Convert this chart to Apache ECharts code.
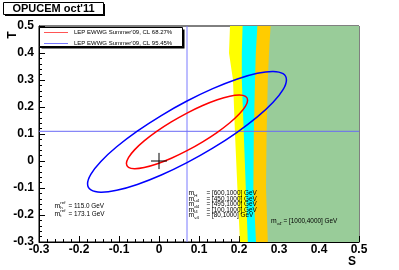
<!DOCTYPE html>
<html><head><meta charset="utf-8">
<script src="https://cdn.jsdelivr.net/npm/echarts@6/dist/echarts.min.js"></script>
<style>html,body{margin:0;padding:0;background:#fff}#c{width:399px;height:270px}</style>
</head><body><div id="c"></div>
<script>
// ---- axes ----
const xTicks = [-0.3, -0.2, -0.1, 0, 0.1, 0.2, 0.3, 0.4, 0.5];
const yTicks = [-0.3, -0.2, -0.1, 0, 0.1, 0.2, 0.3, 0.4, 0.5];

// ---- LEP EWWG contours (S, T) ----
const red68S = [0.2215,0.2163,0.2012,0.1771,0.1458,0.1092,0.07,0.0308,-0.0058,-0.0371,-0.0612,-0.0763,-0.0815,-0.0763,-0.0612,-0.0371,-0.0058,0.0308,0.07,0.1092,0.1458,0.1771,0.2012,0.2163];
const red68T = [0.2253,0.2393,0.2444,0.2401,0.2270,0.2056,0.1776,0.1448,0.1096,0.0743,0.0412,0.0127,-0.0093,-0.0233,-0.0284,-0.0241,-0.0110,0.0104,0.0384,0.0712,0.1064,0.1417,0.1748,0.2033];
const blue95S = [0.3186,0.3101,0.2853,0.2458,0.1943,0.1343,0.07,0.0057,-0.0543,-0.1058,-0.1453,-0.1701,-0.1786,-0.1701,-0.1453,-0.1058,-0.0543,0.0057,0.07,0.1343,0.1943,0.2458,0.2853,0.3101];
const blue95T = [0.3004,0.3233,0.3317,0.3247,0.3030,0.2680,0.2221,0.1684,0.1106,0.0527,-0.0015,-0.0483,-0.0844,-0.1073,-0.1157,-0.1087,-0.0870,-0.0520,-0.0061,0.0476,0.1054,0.1633,0.2175,0.2643];

// central value lines and SM reference point
const centralS = [0.07];
const centralT = [0.11];
const smPointS = [0];
const smPointT = [0];

// ---- OPUCEM allowed bands: left boundary S at given T ----
const bandT      = [0.5, 0.4, 0.3, 0.1, -0.1, -0.3];
const yellowLeft = [0.1775, 0.175, 0.185, 0.190, 0.196, 0.2025];
const cyanLeft   = [0.209, 0.207, 0.207, 0.212, 0.217, 0.222];
const orangeLeft = [0.246, 0.242, 0.240, 0.237, 0.236, 0.2425];
const greenLeft  = [0.279, 0.275, 0.272, 0.269, 0.2675, 0.272];
const bandLefts = [yellowLeft, cyanLeft, orangeLeft, greenLeft];
const bandColors = ['#ffff00', '#00ffff', '#ffcc00', '#99cc99'];

const xMin = xTicks[0], xMax = xTicks[xTicks.length - 1];
const yMin = yTicks[0], yMax = yTicks[yTicks.length - 1];

const chart = echarts.init(document.getElementById('c'), null, {renderer: 'canvas'});

function contourSeries(sArr, tArr, color) {
  return {
    type: 'custom', coordinateSystem: 'cartesian2d', silent: true, z: 5,
    data: [[0, 0]],
    renderItem: function (params, api) {
      const pts = sArr.map((s, i) => api.coord([s, tArr[i]]));
      return {type: 'polygon', shape: {points: pts, smooth: 0.35},
              style: {fill: 'none', stroke: color, lineWidth: 1.5}};
    }
  };
}

const FONT = 'Liberation Sans, Arial, Helvetica, sans-serif';
function txt(x, y, s, size, extra) {
  return Object.assign({type: 'text', x: x, y: y, z: 100,
    style: {text: s, fontSize: size, fontFamily: FONT, fill: '#000', textVerticalAlign: 'middle', textAlign: 'left'}}, extra || {});
}
function mLabel(x, y, sub, sup, rest, restX) {
  const out = [txt(x, y, 'm', 6.8)];
  if (sub) out.push(txt(x + 5.8, y + 2, sub, 4.4));
  if (sup) out.push(txt(x + 5.8, y - 2.8, sup, 4.4));
  out.push(txt(restX, y, rest, 6.4));
  return out;
}

const graphics = [];
// title box
graphics.push({type: 'rect', z: 99, shape: {x: 5, y: 4, width: 100, height: 12}, style: {fill: '#000'}});
graphics.push({type: 'rect', z: 100, shape: {x: 3.5, y: 2.5, width: 100, height: 12}, style: {fill: '#fff', stroke: '#000', lineWidth: 1}});
graphics.push(txt(53.5, 9, "OPUCEM oct'11", 11, {style: {text: "OPUCEM oct'11", fontSize: 11, fontWeight: 'bold', fontFamily: FONT, fill: '#000', textAlign: 'center', textVerticalAlign: 'middle'}}));
// legend box
graphics.push({type: 'rect', z: 99, shape: {x: 41.5, y: 29.5, width: 143, height: 19}, style: {fill: '#000'}});
graphics.push({type: 'rect', z: 100, shape: {x: 39.5, y: 27.5, width: 143, height: 19}, style: {fill: '#fff', stroke: '#000', lineWidth: 1}});
graphics.push({type: 'line', z: 101, shape: {x1: 44, y1: 32.5, x2: 68, y2: 32.5}, style: {stroke: '#ff5555', lineWidth: 1}});
graphics.push({type: 'line', z: 101, shape: {x1: 44, y1: 43.5, x2: 68, y2: 43.5}, style: {stroke: '#7777ff', lineWidth: 1}});
graphics.push(txt(74, 32.5, "LEP EWWG Summer'09, CL 68.27%", 6));
graphics.push(txt(74, 43.5, "LEP EWWG Summer'09, CL 95.45%", 6));
// reference masses
graphics.push(...mLabel(54.5, 206, 'h', 'ref', '= 115.0 GeV', 68.5));
graphics.push(...mLabel(54.5, 214, 't', 'ref', '= 173.1 GeV', 68.5));
// 4th generation mass ranges
const rangeSubs = ['H', 'u4', 'd4', 'l4', '\u03bd4'];
const rangeTexts = ['= [600,1000] GeV', '= [450,1000] GeV', '= [495,1000] GeV', '= [100,1000] GeV', '= [80,1000] GeV'];
const rangeY = [193.5, 199, 204.5, 210, 215.5];
rangeSubs.forEach((s, i) => graphics.push(...mLabel(188.5, rangeY[i], s, null, rangeTexts[i], 206.5)));
graphics.push(...mLabel(271, 221.5, '\u03bd4\u2032', null, '= [1000,4000] GeV', 283.5));
// axis titles
graphics.push({type: 'text', z: 100, x: 352, y: 261.5, style: {text: 'S', fontSize: 12, fontWeight: 'bold', fontFamily: FONT, fill: '#000', textAlign: 'center', textVerticalAlign: 'middle'}});
graphics.push({type: 'text', z: 100, x: 13, y: 35, rotation: Math.PI / 2, style: {text: 'T', fontSize: 12, fontWeight: 'bold', fontFamily: FONT, fill: '#000', textAlign: 'center', textVerticalAlign: 'middle'}});

const axisCommon = {
  type: 'value', interval: 0.1,
  axisLine: {show: true, onZero: false, lineStyle: {color: '#000', width: 1}},
  axisTick: {show: true, inside: true, length: 6, lineStyle: {color: '#000', width: 1}},
  minorTick: {show: true, splitNumber: 5, length: 3, lineStyle: {color: '#000', width: 1}},
  splitLine: {show: false}, minorSplitLine: {show: false},
  axisLabel: {color: '#000', fontSize: 12, fontWeight: 'bold', fontFamily: FONT,
    formatter: v => { const r = Math.round(v * 10) / 10; return r === 0 ? '0' : String(r); }}
};

const option = {
  animation: false,
  backgroundColor: '#fff',
  grid: {left: 39, right: 40, top: 26, bottom: 28, show: true, borderColor: '#000', borderWidth: 1, backgroundColor: 'transparent', containLabel: false, outerBoundsMode: 'none'},
  xAxis: Object.assign({}, axisCommon, {min: xMin, max: xMax, axisLabel: Object.assign({}, axisCommon.axisLabel, {margin: 2})}),
  yAxis: Object.assign({}, axisCommon, {min: yMin, max: yMax, axisLabel: Object.assign({}, axisCommon.axisLabel, {margin: 5})}),
  graphic: graphics,
  series: [
    {
      type: 'custom', coordinateSystem: 'cartesian2d', silent: true, z: 1, clip: true,
      data: bandLefts.map((b, i) => [i, 0]),
      renderItem: function (params, api) {
        const i = params.dataIndex;
        const left = bandLefts[i];
        const pts = left.map((s, k) => api.coord([s, bandT[k]]));
        pts.push(api.coord([xMax, bandT[bandT.length - 1]]));
        pts.push(api.coord([xMax, bandT[0]]));
        return {type: 'polygon', shape: {points: pts}, style: {fill: bandColors[i], stroke: null}};
      }
    },
    {type: 'line', silent: true, z: 3, symbol: 'none', data: [[centralS[0], yMin], [centralS[0], yMax]], lineStyle: {color: '#7b7bff', width: 1}},
    {type: 'line', silent: true, z: 3, symbol: 'none', data: [[xMin, centralT[0]], [xMax, centralT[0]]], lineStyle: {color: '#6a6af5', width: 1}},
    contourSeries(red68S, red68T, '#ff0000'),
    contourSeries(blue95S, blue95T, '#0000ff'),
    {type: 'line', silent: true, z: 6, symbol: 'none', data: [[smPointS[0] - 0.02, smPointT[0]], [smPointS[0] + 0.02, smPointT[0]]], lineStyle: {color: '#000', width: 1}},
    {type: 'line', silent: true, z: 6, symbol: 'none', data: [[smPointS[0], smPointT[0] - 0.03], [smPointS[0], smPointT[0] + 0.03]], lineStyle: {color: '#000', width: 1}}
  ]
};
chart.setOption(option);
</script>
</body></html>
